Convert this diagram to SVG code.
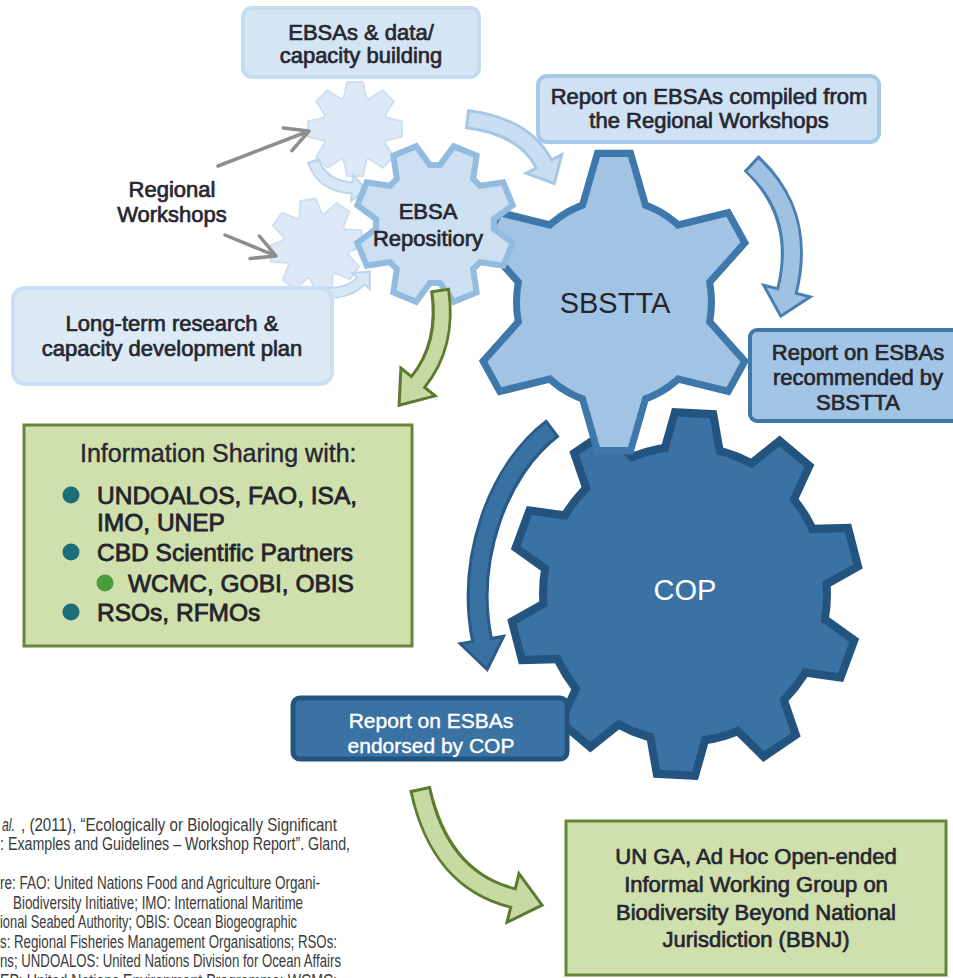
<svg xmlns="http://www.w3.org/2000/svg" width="953" height="978" viewBox="0 0 953 978">
<style>
text{font-family:"Liberation Sans",Arial,Helvetica,sans-serif;}
.lbl{font-size:22px;fill:#272731;stroke:#272731;stroke-width:0.7;text-anchor:middle;}
.wlbl{font-size:21px;fill:#ffffff;stroke:#ffffff;stroke-width:0.4;text-anchor:middle;}
.big{font-size:29px;fill:#25252e;text-anchor:middle;}
.hdr{font-size:25px;fill:#272731;stroke:#272731;stroke-width:0.4;}
.item{font-size:24.5px;fill:#24242c;stroke:#24242c;stroke-width:0.8;}
.fn{font-size:17.5px;fill:#3a3a3a;}
.gray{fill:none;stroke:#8e8e8e;stroke-width:3.5;stroke-linecap:round;stroke-linejoin:round;}
.sh{fill:none;}
.fo{stroke:#bcd6ee;} .fi{stroke:#d6e7f6;} .fh{fill:#d6e7f6;stroke:#bcd6ee;stroke-width:2;}
.ao{stroke:#a6c7e6;} .ai{stroke:#c9def1;} .ah{fill:#c9def1;stroke:#a6c7e6;stroke-width:3;}
.bo{stroke:#4a80b1;} .bi{stroke:#a0c2e2;} .bh{fill:#a0c2e2;stroke:#4a80b1;stroke-width:3;}
.go{stroke:#5c7b2e;} .gi{stroke:#c7daa3;} .gh{fill:#c7daa3;stroke:#5c7b2e;stroke-width:3;}
.do{stroke:#2a5b88;} .di{stroke:#3a71a3;} .dh{fill:#3a71a3;stroke:#2a5b88;stroke-width:3;}
</style>
<defs>
<path id="tSB" d="M-30,-85 L-14,-138 L14,-138 L30,-85 Z"/>
<g id="gSB"><circle r="94"/><use href="#tSB"/><use href="#tSB" transform="rotate(60)"/><use href="#tSB" transform="rotate(120)"/><use href="#tSB" transform="rotate(180)"/><use href="#tSB" transform="rotate(240)"/><use href="#tSB" transform="rotate(300)"/></g>
<path id="tCOP" d="M-26,-128 L-16,-170 L16,-170 L26,-128 Z"/>
<g id="gCOP"><circle r="138"/><use href="#tCOP" transform="rotate(3)"/><use href="#tCOP" transform="rotate(39)"/><use href="#tCOP" transform="rotate(75)"/><use href="#tCOP" transform="rotate(111)"/><use href="#tCOP" transform="rotate(147)"/><use href="#tCOP" transform="rotate(183)"/><use href="#tCOP" transform="rotate(219)"/><use href="#tCOP" transform="rotate(255)"/><use href="#tCOP" transform="rotate(291)"/><use href="#tCOP" transform="rotate(327)"/></g>
<path id="tEB" d="M-17,-48 L-10,-76 L10,-76 L17,-48 Z"/>
<g id="gEB"><circle r="56"/><use href="#tEB" transform="rotate(22.5)"/><use href="#tEB" transform="rotate(67.5)"/><use href="#tEB" transform="rotate(112.5)"/><use href="#tEB" transform="rotate(157.5)"/><use href="#tEB" transform="rotate(202.5)"/><use href="#tEB" transform="rotate(247.5)"/><use href="#tEB" transform="rotate(292.5)"/><use href="#tEB" transform="rotate(337.5)"/></g>
<path id="tSM" d="M-11,-28 L-7,-46 L7,-46 L11,-28 Z"/>
<g id="gSM"><circle r="32"/><use href="#tSM"/><use href="#tSM" transform="rotate(45)"/><use href="#tSM" transform="rotate(90)"/><use href="#tSM" transform="rotate(135)"/><use href="#tSM" transform="rotate(180)"/><use href="#tSM" transform="rotate(225)"/><use href="#tSM" transform="rotate(270)"/><use href="#tSM" transform="rotate(315)"/></g>
</defs>

<g id="node-workshop-gear-1" transform="translate(355,129)">
<use href="#gSM" fill="#cde0f2" stroke="#cde0f2" stroke-width="4"/>
<use href="#gSM" fill="#dde9f6"/>
</g>
<g id="node-workshop-gear-2" transform="translate(316,246) rotate(-10)">
<use href="#gSM" fill="#cde0f2" stroke="#cde0f2" stroke-width="4"/>
<use href="#gSM" fill="#dde9f6"/>
</g>

<g id="node-regional-workshops">
<text class="lbl" x="172" y="197" font-size="21">Regional</text>
<text class="lbl" x="172" y="222" font-size="21">Workshops</text>
</g>

<g id="node-ebsas-data">
<rect x="243" y="8" width="236" height="69" rx="9" fill="#d5e5f4" stroke="#c5dbf0" stroke-width="4"/>
<text class="lbl" x="361" y="40">EBSAs &amp; data/</text>
<text class="lbl" x="361" y="63">capacity building</text>
</g>

<g id="connectors-back">
<path class="gray" d="M218,166 L309,131 M283.2,127.9 L309,131 L291.9,150.6"/>
<path class="gray" d="M225,235 L276,256 M259.4,236 L276,256 L250.1,258.5"/>
<path class="sh fo" stroke-width="13" d="M313,160 Q322,186 352,188"/>
<polygon class="fh" points="352.9,175 366,189 351.1,201"/>
<path class="sh fi" stroke-width="9" d="M314,162.5 Q322,186 352,188 L355,188.2"/>
<path class="sh fo" stroke-width="12" d="M326,293 Q350,293 361,281"/>
<polygon class="fh" points="352.2,272.9 369.8,271.4 369.8,289.1"/>
<path class="sh fi" stroke-width="8" d="M328.5,293 Q350,293 361,281 L363,278.8"/>
<path class="sh ao" stroke-width="20" d="M466,119 Q524,126 544,164"/>
<polygon class="ah" points="561.7,154.7 554.3,183.5 526.3,173.3"/>
<path class="sh ai" stroke-width="14" d="M469,119.5 Q524,126 544,164 L546,167.5"/>
</g>

<g id="node-cop">
<g transform="translate(685,594) scale(1,1.04)">
<use href="#gCOP" fill="#23547f" stroke="#23547f" stroke-width="16"/>
<use href="#gCOP" fill="#3b72a4"/>
</g>
<text class="big" x="685" y="600" style="fill:#ffffff">COP</text>
</g>

<g id="node-sbstta">
<g transform="translate(614,302) scale(1,1.05)">
<use href="#gSB" fill="#3e78ab" stroke="#3e78ab" stroke-width="14"/>
<use href="#gSB" fill="#a1c3e4"/>
</g>
<text class="big" x="615" y="313">SBSTTA</text>
</g>

<g id="node-ebsa-repository">
<g transform="translate(435,224)">
<use href="#gEB" fill="#92bbe0" stroke="#92bbe0" stroke-width="12"/>
<use href="#gEB" fill="#cde0f2"/>
</g>
<text class="lbl" x="428" y="219">EBSA</text>
<text class="lbl" x="428" y="246">Repositiory</text>
</g>

<g id="node-report-compiled">
<rect x="538" y="76" width="341" height="66" rx="9" fill="#cfe2f3" stroke="#a7c9e7" stroke-width="4"/>
<text class="lbl" x="709" y="104">Report on EBSAs compiled from</text>
<text class="lbl" x="709" y="128">the Regional Workshops</text>
</g>

<g id="node-report-recommended">
<rect x="750" y="330" width="212" height="91" rx="7" fill="#a3c5e5" stroke="#3f79ac" stroke-width="4"/>
<text class="lbl" x="858" y="360">Report on ESBAs</text>
<text class="lbl" x="858" y="385">recommended by</text>
<text class="lbl" x="858" y="410">SBSTTA</text>
</g>

<g id="node-long-term">
<rect x="13" y="288" width="319" height="96" rx="12" fill="#dceaf6" stroke="#cadff1" stroke-width="4"/>
<text class="lbl" x="172" y="331">Long-term research &amp;</text>
<text class="lbl" x="172" y="356">capacity development plan</text>
</g>

<g id="node-info-sharing">
<rect x="24" y="425" width="388" height="221" fill="#cfe0ad" stroke="#66863a" stroke-width="3"/>
<text class="hdr" x="80" y="462">Information Sharing with:</text>
<circle cx="71" cy="495" r="8.5" fill="#1e6e78"/>
<text class="item" x="97" y="504">UNDOALOS, FAO, ISA,</text>
<text class="item" x="97" y="531">IMO, UNEP</text>
<circle cx="71" cy="552" r="8.5" fill="#1e6e78"/>
<text class="item" x="97" y="561">CBD Scientific Partners</text>
<circle cx="105" cy="583" r="8.5" fill="#4b9b3f"/>
<text class="item" x="128" y="592">WCMC, GOBI, OBIS</text>
<circle cx="71" cy="612" r="8.5" fill="#1e6e78"/>
<text class="item" x="97" y="621">RSOs, RFMOs</text>
</g>

<g id="node-report-endorsed">
<rect x="293" y="698" width="274" height="61" rx="7" fill="#3a72a4" stroke="#24547e" stroke-width="5"/>
<text class="wlbl" x="431" y="728">Report on ESBAs</text>
<text class="wlbl" x="431" y="753">endorsed by COP</text>
</g>

<g id="node-bbnj">
<rect x="566" y="821" width="380" height="154" fill="#cfe0ad" stroke="#66863a" stroke-width="3"/>
<text class="lbl" x="756" y="864" font-size="25">UN GA, Ad Hoc Open-ended</text>
<text class="lbl" x="756" y="892" font-size="25">Informal Working Group on</text>
<text class="lbl" x="756" y="920" font-size="25">Biodiversity Beyond National</text>
<text class="lbl" x="756" y="947" font-size="25">Jurisdiction (BBNJ)</text>
</g>

<g id="connectors">
<path class="sh bo" stroke-width="22" d="M751,163 Q806,214 787,291"/>
<polygon class="bh" points="810.3,296.8 780.8,316.2 763.7,285.2"/>
<path class="sh bi" stroke-width="16" d="M753,165.5 Q806,214 787,291 L786,295"/>
<path class="sh go" stroke-width="20" d="M440,289 Q448,345 418,382"/>
<polygon class="gh" points="435.1,395.9 399.1,405.3 400.9,368.1"/>
<path class="sh gi" stroke-width="14" d="M440.4,292 Q448,345 418,382 L415.5,385"/>
<path class="sh do" stroke-width="22" d="M553,428 C497,470 466,560 482,640"/>
<polygon class="dh" points="503.7,636.2 487.2,669.6 460.3,643.8"/>
<path class="sh di" stroke-width="16" d="M550.6,429.7 C497,470 466,560 482,640 L483,645"/>
<path class="sh go" stroke-width="22" d="M420,788 Q440,880 513,898"/>
<polygon class="gh" points="519,873.7 542.1,905.2 507,922.3"/>
<path class="sh gi" stroke-width="16" d="M420.6,791 Q440,880 513,898 L517,899"/>
</g>

<g id="footnote">
<text class="fn" x="2" y="831" font-style="italic" textLength="13" lengthAdjust="spacingAndGlyphs">al.</text>
<text class="fn" x="21" y="831" textLength="316" lengthAdjust="spacingAndGlyphs">, (2011), “Ecologically or Biologically Significant</text>
<text class="fn" x="0" y="850" textLength="350" lengthAdjust="spacingAndGlyphs">: Examples and Guidelines – Workshop Report”. Gland,</text>
<text class="fn" x="0" y="889" textLength="320" lengthAdjust="spacingAndGlyphs">re: FAO: United Nations Food and Agriculture Organi-</text>
<text class="fn" x="13" y="909" textLength="290" lengthAdjust="spacingAndGlyphs">Biodiversity Initiative; IMO: International Maritime</text>
<text class="fn" x="0" y="928" textLength="297" lengthAdjust="spacingAndGlyphs">ional Seabed Authority; OBIS: Ocean Biogeographic</text>
<text class="fn" x="0" y="948" textLength="337" lengthAdjust="spacingAndGlyphs">s: Regional Fisheries Management Organisations; RSOs:</text>
<text class="fn" x="0" y="967" textLength="341" lengthAdjust="spacingAndGlyphs">ns; UNDOALOS: United Nations Division for Ocean Affairs</text>
<text class="fn" x="0" y="987" textLength="337" lengthAdjust="spacingAndGlyphs">EP: United Nations Environment Programme; WCMC:</text>
</g>
</svg>
